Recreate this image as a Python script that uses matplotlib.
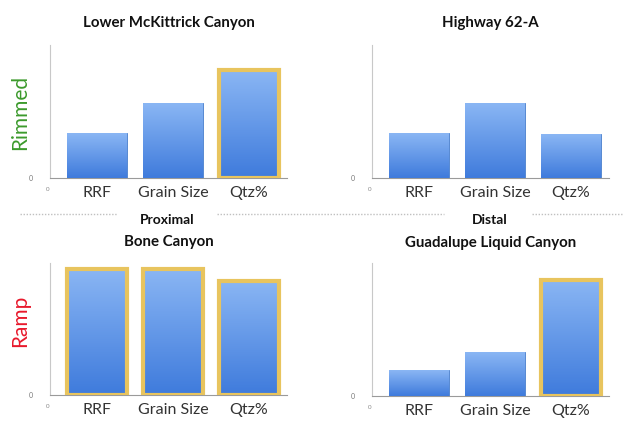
import numpy as np
import matplotlib
matplotlib.use("Agg")
import matplotlib.pyplot as plt
from matplotlib.colors import LinearSegmentedColormap

plt.rcParams["font.family"] = ["Lato", "DejaVu Sans"]

categories = ["RRF", "Grain Size", "Qtz%"]
titles = ["Lower McKittrick Canyon", "Highway 62-A", "Bone Canyon", "Guadalupe Liquid Canyon"]
lower_mckittrick = [45, 75, 108]
highway_62a = [45, 75, 44]
bone_canyon = [127, 127, 115]
guadalupe_liquid = [26, 44, 116]
highlighted = [[False, False, True], [False, False, False], [True, True, True], [False, False, True]]
row_labels = ["Rimmed", "Ramp"]
row_colors = ["#3c9a2c", "#e8192c"]
column_labels = ["Proximal", "Distal"]

W, H = 623, 421
fig = plt.figure(figsize=(W / 100, H / 100), dpi=100)

grad = LinearSegmentedColormap.from_list("bar", ["#3f7bdc", "#8ab6f4"])
gold = "#e8c45e"


def px_axes(x0, y_top, y_base, width):
	return fig.add_axes([x0 / W, 1 - y_base / H, width / W, (y_base - y_top) / H])


def draw_panel(ax, values, marks, title, title_y):
	x = np.arange(len(values))
	bars = ax.bar(x, values, width=0.78, color="#5b95e8", edgecolor="#4a7fcc", linewidth=0.6, zorder=2)
	gradient = np.linspace(0, 1, 100).reshape(-1, 1)
	for b, hl in zip(bars, marks):
		x0, y0 = b.get_x(), b.get_y()
		im = ax.imshow(gradient, cmap=grad, aspect="auto", origin="lower",
			extent=[x0, x0 + b.get_width(), y0, y0 + b.get_height()], zorder=3)
		im.set_clip_path(b)
		if hl:
			ax.bar(b.get_x() + b.get_width() / 2, b.get_height(), width=b.get_width(),
				fill=False, edgecolor=gold, linewidth=3, zorder=4)
	ax.set_xlim(-0.62, 2.5)
	ax.set_ylim(0, 133)
	ax.set_xticks(x)
	ax.set_xticklabels(categories, fontsize=11.5, color="#333333")
	ax.set_yticks([0])
	ax.set_yticklabels(["0"], fontsize=5, color="#777777")
	ax.tick_params(axis="x", length=0, pad=6)
	ax.tick_params(axis="y", length=0, pad=12)
	for s in ["top", "right"]:
		ax.spines[s].set_visible(False)
	ax.spines["left"].set_color("#c8c8c8")
	ax.spines["bottom"].set_color("#9a9a9a")
	pos = ax.get_position()
	fig.text(pos.x0 + pos.width / 2, 1 - title_y / H, title, ha="center", va="center",
		fontsize=10.8, fontweight="bold", color="#111111")
	ax.text(-0.01, -0.09, "0", transform=ax.transAxes, ha="center", va="center",
		fontsize=4.5, color="#888888")


panels = [lower_mckittrick, highway_62a, bone_canyon, guadalupe_liquid]
boxes = [(50, 45, 178), (372, 45, 178), (50, 263, 395), (372, 263, 396)]
title_ys = [23, 23, 242, 243]
for vals, marks, title, (x0, yt, yb), ty in zip(panels, highlighted, titles, boxes, title_ys):
	ax = px_axes(x0, yt, yb, 237)
	draw_panel(ax, vals, marks, title, ty)

fig.text(20 / W, 1 - 112 / H, row_labels[0], rotation=90, ha="center", va="center",
	fontsize=15, color=row_colors[0])
fig.text(20 / W, 1 - 321 / H, row_labels[1], rotation=90, ha="center", va="center",
	fontsize=15, color=row_colors[1])

fig.text(167 / W, 1 - 220 / H, column_labels[0], ha="center", va="center", fontsize=10,
	fontweight="bold", color="#111111")
fig.text(490 / W, 1 - 220 / H, column_labels[1], ha="center", va="center", fontsize=10,
	fontweight="bold", color="#111111")

for xa, xb in [(20, 117), (217, 444), (532, 623)]:
	fig.add_artist(plt.Line2D([xa / W, xb / W], [1 - 214 / H, 1 - 214 / H], color="#c0c0c0",
		linestyle=(0, (1, 1.2)), linewidth=1.0))

fig.savefig("out.png", dpi=100)
